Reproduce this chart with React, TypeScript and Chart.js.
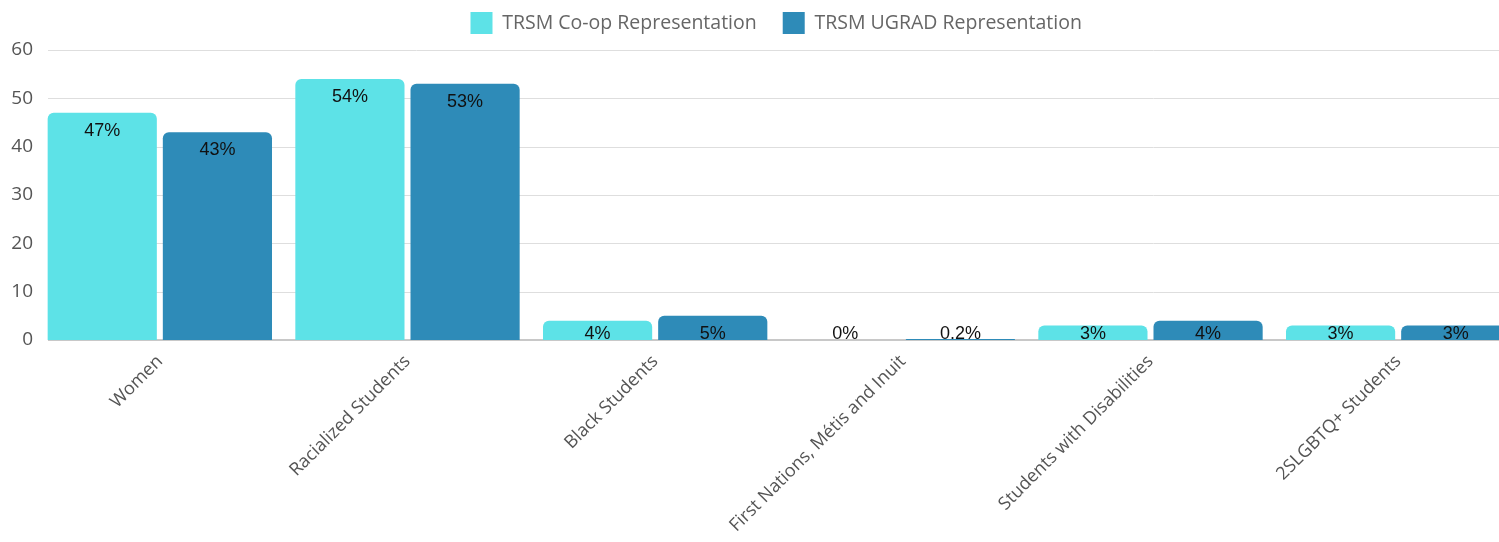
import React, { useEffect, useRef } from 'react';
import { Chart, registerables } from 'chart.js';

Chart.register(...registerables);

const categories = [
  'Women',
  'Racialized Students',
  'Black Students',
  'First Nations, Métis and Inuit',
  'Students with Disabilities',
  '2SLGBTQ+ Students',
];
const coopValues = [47, 54, 4, 0, 3, 3];
const ugradValues = [43, 53, 5, 0.2, 4, 3];
const seriesNames = ['TRSM Co-op Representation', 'TRSM UGRAD Representation'];
const seriesColors = ['#5de2e7', '#2e8bb8'];
const yMin = 0;
const yMax = 60;
const yStep = 10;

const CANVAS_W = 1522;
const CANVAS_H = 542;
const FONT = '"Open Sans", sans-serif';

const gridPlugin = {
  id: 'customGrid',
  beforeDatasetsDraw(chart: any) {
    const { ctx, chartArea } = chart;
    const y = chart.scales.y;
    ctx.save();
    y.ticks.forEach((t: any) => {
      const py = Math.round(y.getPixelForValue(t.value));
      const zero = t.value === 0;
      ctx.strokeStyle = zero ? '#c8c8c8' : '#dedede';
      ctx.lineWidth = zero ? 2 : 1;
      ctx.beginPath();
      const yy = zero ? py : py + 0.5;
      ctx.moveTo(chartArea.left + 12, yy);
      ctx.lineTo(chartArea.right, yy);
      ctx.stroke();
    });
    ctx.restore();
  },
};

const legendShiftPlugin = {
  id: 'legendShift',
  afterLayout(chart: any) {
    const lg = chart.legend;
    if (!lg) return;
    lg.left += 11.2;
    lg.right += 11.2;
    lg.top -= 14;
  },
};

const labelPlugin = {
  id: 'barLabels',
  afterDatasetsDraw(chart: any) {
    const { ctx } = chart;
    ctx.save();
    ctx.font = '18px "Liberation Sans", Arial, sans-serif';
    ctx.fillStyle = '#111111';
    ctx.textAlign = 'center';
    ctx.textBaseline = 'middle';
    chart.data.datasets.forEach((ds: any, di: number) => {
      const meta = chart.getDatasetMeta(di);
      meta.data.forEach((bar: any, i: number) => {
        const v = ds.data[i];
        const props = bar.getProps(['x', 'y', 'base'], true);
        const y = Math.min(props.y + 18, props.base - 6);
        ctx.fillText(`${v}%`, props.x, y);
      });
    });
    ctx.restore();
  },
};

export default function App() {
  const canvasRef = useRef<HTMLCanvasElement | null>(null);

  useEffect(() => {
    const canvas = canvasRef.current;
    if (!canvas) return;
    const chart = new Chart(canvas, {
      type: 'bar',
      data: {
        labels: categories,
        datasets: [
          {
            label: seriesNames[0],
            data: coopValues,
            backgroundColor: seriesColors[0],
            borderRadius: { topLeft: 6, topRight: 6, bottomLeft: 0, bottomRight: 0 },
            borderSkipped: false,
            barPercentage: 0.948,
            categoryPercentage: 0.93,
          },
          {
            label: seriesNames[1],
            data: ugradValues,
            backgroundColor: seriesColors[1],
            borderRadius: { topLeft: 6, topRight: 6, bottomLeft: 0, bottomRight: 0 },
            borderSkipped: false,
            barPercentage: 0.948,
            categoryPercentage: 0.93,
          },
        ],
      },
      options: {
        responsive: false,
        animation: false,
        devicePixelRatio: 1,
        layout: { padding: { left: 8, right: 0, top: 0, bottom: 0 } },
        plugins: {
          legend: {
            position: 'top',
            align: 'center',
            maxHeight: 50,
            labels: {
              boxWidth: 22,
              boxHeight: 22,
              padding: 26,
              color: '#666666',
              font: { family: FONT, size: 19.5 },
            },
          },
          tooltip: { enabled: false },
        },
        scales: {
          x: {
            grid: { display: false },
            border: { display: false },
            ticks: {
              maxRotation: 45,
              minRotation: 45,
              autoSkip: false,
              color: '#555555',
              font: { family: FONT, size: 18 },
            },
            afterFit(scale: any) {
              scale.height = 202;
            },
          },
          y: {
            min: yMin,
            max: yMax,
            grid: { display: false, drawTicks: false },
            border: { display: false },
            ticks: {
              stepSize: yStep,
              padding: 3,
              color: '#555555',
              font: { family: FONT, size: 19 },
            },
            afterFit(scale: any) {
              scale.width = 28;
            },
          },
        },
      },
      plugins: [gridPlugin, labelPlugin, legendShiftPlugin],
    });
    return () => chart.destroy();
  }, []);

  return (
    <div
      style={{
        position: 'fixed',
        left: 0,
        top: 0,
        width: 1499,
        height: 542,
        overflow: 'hidden',
        background: '#ffffff',
      }}
    >
      <canvas ref={canvasRef} width={CANVAS_W} height={CANVAS_H} style={{ display: 'block' }} />
    </div>
  );
}
